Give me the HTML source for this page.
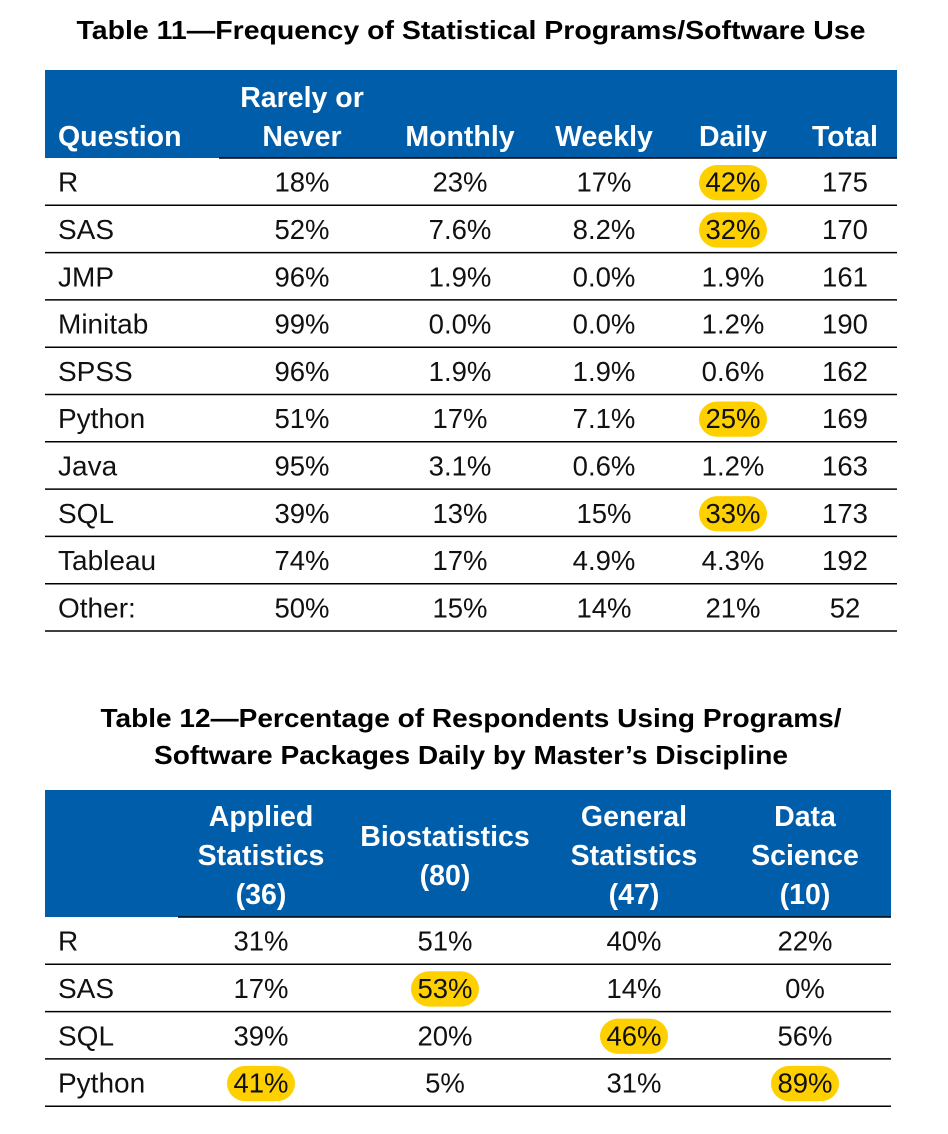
<!DOCTYPE html>
<html><head><meta charset="utf-8">
<style>
html,body{margin:0;padding:0;background:#fff;}
svg{display:block;font-family:"Liberation Sans",sans-serif;}
</style></head>
<body>
<svg id="s" width="948" height="1134" viewBox="0 0 948 1134" xmlns="http://www.w3.org/2000/svg">
<text x="471" y="39" text-anchor="middle" font-weight="bold" font-size="26" textLength="789" lengthAdjust="spacingAndGlyphs">Table 11—Frequency of Statistical Programs/Software Use</text>
<text x="471" y="727" text-anchor="middle" font-weight="bold" font-size="26" textLength="741" lengthAdjust="spacingAndGlyphs">Table 12—Percentage of Respondents Using Programs/</text>
<text x="471" y="764" text-anchor="middle" font-weight="bold" font-size="26" textLength="634" lengthAdjust="spacingAndGlyphs">Software Packages Daily by Master’s Discipline</text>
<g id="t11"></g>
<g id="t12"></g>
</svg>
<script>
const t11Rows=["R","SAS","JMP","Minitab","SPSS","Python","Java","SQL","Tableau","Other:"];
const t11Rarely=["18%","52%","96%","99%","96%","51%","95%","39%","74%","50%"];
const t11Monthly=["23%","7.6%","1.9%","0.0%","1.9%","17%","3.1%","13%","17%","15%"];
const t11Weekly=["17%","8.2%","0.0%","0.0%","1.9%","7.1%","0.6%","15%","4.9%","14%"];
const t11Daily=["42%","32%","1.9%","1.2%","0.6%","25%","1.2%","33%","4.3%","21%"];
const t11Total=["175","170","161","190","162","169","163","173","192","52"];
const t11Hi=[[0,3],[1,3],[5,3],[7,3]];

const t12Rows=["R","SAS","SQL","Python"];
const t12Applied=["31%","17%","39%","41%"];
const t12Bio=["51%","53%","20%","5%"];
const t12General=["40%","14%","46%","31%"];
const t12Data=["22%","0%","56%","89%"];
const t12Hi=[[1,1],[2,2],[3,0],[3,3]];

const NS="http://www.w3.org/2000/svg";
function mk(tag,attrs,parent){const e=document.createElementNS(NS,tag);for(const k in attrs)e.setAttribute(k,attrs[k]);parent.appendChild(e);return e;}
function txt(parent,x,y,s,anchor,bold,size,fill){const t=mk('text',{x:x,y:y,'text-anchor':anchor,'font-size':size,'font-weight':bold?'bold':'normal',fill:fill},parent);t.textContent=s;return t;}

function table(g,opt){
  const {x0,x1,hy0,hy1,lineStart,rowH,cols,colX,rows,hi,hdr,hdrLines,name}=opt;
  const r=mk('rect',{x:x0,y:hy0,width:x1-x0,height:hy1-hy0,fill:'#005DAA'},g);
  
  
  hdr.forEach((h,ci)=>{
    h.lines.forEach((ln,li)=>{
      const t=txt(g,h.x,h.y0+li*hdrLines,ln,h.anchor||'middle',true,28.5,'#fff');
      
      
    });
  });
  const l0=mk('line',{x1:lineStart,x2:x1,y1:hy1,y2:hy1,stroke:'#000','stroke-width':1.5},g);
  
  
  rows.forEach((lab,ri)=>{
    const yTop=hy1+ri*rowH, yc=yTop+rowH/2+10;
    hi.forEach(([hr,hc])=>{
      if(hr===ri){
        const p=mk('rect',{x:colX[hc]-34,y:yTop+7,width:68,height:rowH-12,rx:18,fill:'#FFD000'},g);
        
        
      }
    });
    const lt=txt(g,58,yc,lab,'start',false,28,'#111');
    
    
    cols.forEach((arr,ci)=>{
      const c=txt(g,colX[ci],yc,arr[ri],'middle',false,27.5,'#111');
      
      
    });
    const ln=mk('line',{x1:x0,x2:x1,y1:yTop+rowH,y2:yTop+rowH,stroke:'#000','stroke-width':1.5},g);
    
    
  });
}
const c11=[302,460,604,733,845];
table(document.getElementById('t11'),{name:'table-11',x0:45,x1:897,hy0:70,hy1:158,lineStart:219,rowH:47.3,
  cols:[t11Rarely,t11Monthly,t11Weekly,t11Daily,t11Total],colX:c11,rows:t11Rows,hi:t11Hi,hdrLines:39,
  hdr:[{x:58,y0:146,lines:["Question"],anchor:'start'},{x:c11[0],y0:107,lines:["Rarely or","Never"]},
       {x:c11[1],y0:146,lines:["Monthly"]},{x:c11[2],y0:146,lines:["Weekly"]},{x:c11[3],y0:146,lines:["Daily"]},{x:c11[4],y0:146,lines:["Total"]}]});
const c12=[261,445,634,805];
table(document.getElementById('t12'),{name:'table-12',x0:45,x1:891,hy0:790,hy1:917,lineStart:178,rowH:47.3,
  cols:[t12Applied,t12Bio,t12General,t12Data],colX:c12,rows:t12Rows,hi:t12Hi,hdrLines:39,
  hdr:[{x:c12[0],y0:826,lines:["Applied","Statistics","(36)"]},{x:c12[1],y0:846,lines:["Biostatistics","(80)"]},
       {x:c12[2],y0:826,lines:["General","Statistics","(47)"]},{x:c12[3],y0:826,lines:["Data","Science","(10)"]}]});
</script>
</body></html>
